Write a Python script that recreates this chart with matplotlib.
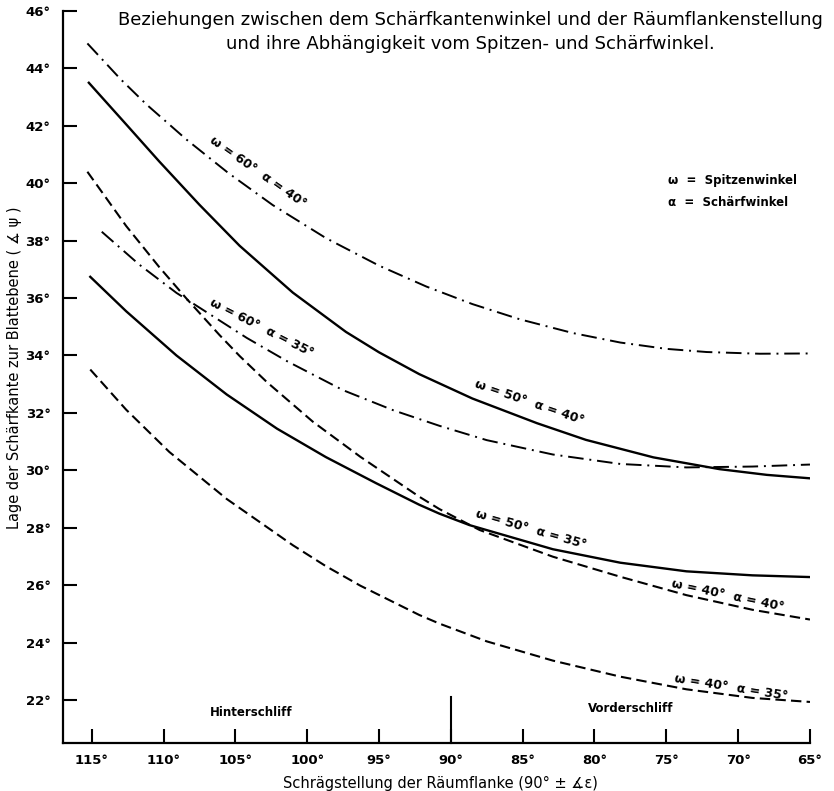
import numpy as np
import matplotlib.pyplot as plt

plt.rcParams['font.family'] = 'DejaVu Sans'

# values (x = Schrägstellung, y = Lage der Schärfkante)
x_w60_a40 = [115.3, 113.0, 111.2, 108.4, 105.5, 102.4, 98.7, 95.0, 91.7, 88.5, 85.2, 81.5, 78.2, 75.0, 72.2, 68.5, 65.0]
y_w60_a40 = [44.87, 43.63, 42.75, 41.52, 40.36, 39.24, 38.09, 37.13, 36.40, 35.79, 35.26, 34.78, 34.45, 34.23, 34.12, 34.06, 34.07]

x_w50_a40 = [115.2, 112.6, 110.3, 107.5, 104.7, 101.0, 97.3, 95.0, 92.2, 88.5, 84.0, 80.6, 75.9, 71.3, 68.0, 65.0]
y_w50_a40 = [43.50, 42.05, 40.76, 39.25, 37.82, 36.19, 34.82, 34.11, 33.35, 32.50, 31.64, 31.06, 30.45, 30.04, 29.84, 29.72]

x_w60_a35 = [114.3, 111.7, 109.1, 104.2, 101.4, 97.5, 94.0, 90.8, 87.5, 82.9, 78.2, 73.6, 69.0, 65.0]
y_w60_a35 = [38.31, 37.17, 36.18, 34.61, 33.80, 32.79, 32.09, 31.55, 31.05, 30.55, 30.22, 30.10, 30.13, 30.20]

x_w40_a40 = [115.3, 112.6, 110.3, 108.4, 106.1, 104.7, 102.8, 99.6, 96.3, 92.2, 90.8, 88.0, 82.9, 78.2, 73.6, 69.0, 65.0]
y_w40_a40 = [40.40, 38.51, 37.08, 35.98, 34.71, 33.98, 33.07, 31.69, 30.47, 29.08, 28.65, 27.92, 26.99, 26.29, 25.65, 25.14, 24.80]

x_w50_a35 = [115.1, 112.6, 109.1, 105.6, 102.1, 98.7, 95.2, 92.2, 90.8, 88.7, 82.9, 78.2, 73.6, 69.0, 65.0]
y_w50_a35 = [36.74, 35.54, 34.00, 32.64, 31.45, 30.46, 29.55, 28.80, 28.49, 28.09, 27.25, 26.78, 26.48, 26.34, 26.28]

x_w40_a35 = [115.1, 112.6, 109.6, 105.6, 101.0, 98.7, 96.3, 92.2, 90.8, 87.5, 82.9, 78.2, 73.6, 69.0, 65.0]
y_w40_a35 = [33.51, 32.11, 30.64, 29.00, 27.39, 26.66, 25.98, 24.96, 24.66, 24.04, 23.37, 22.81, 22.37, 22.07, 21.93]

x_ticks = [115, 110, 105, 100, 95, 90, 85, 80, 75, 70, 65]
y_ticks = [22, 24, 26, 28, 30, 32, 34, 36, 38, 40, 42, 44, 46]

dashdot = (0, (8, 3, 1, 3))
dashed = (0, (5, 2.5))

fig = plt.figure(figsize=(8.34, 7.91), dpi=100)
ax = fig.add_axes([0.0755, 0.0607, 0.8957, 0.9254])

ax.plot(x_w60_a40, y_w60_a40, color='black', lw=1.4, linestyle=dashdot)
ax.plot(x_w50_a40, y_w50_a40, color='black', lw=1.7)
ax.plot(x_w60_a35, y_w60_a35, color='black', lw=1.4, linestyle=dashdot)
ax.plot(x_w40_a40, y_w40_a40, color='black', lw=1.5, linestyle=dashed)
ax.plot(x_w50_a35, y_w50_a35, color='black', lw=1.7)
ax.plot(x_w40_a35, y_w40_a35, color='black', lw=1.5, linestyle=dashed)

ax.set_xlim(117.0, 65)
ax.set_ylim(20.5, 46.0)

ax.set_xticks(x_ticks)
ax.set_xticklabels([f'{v}°' for v in x_ticks])
ax.set_yticks(y_ticks)
ax.set_yticklabels([f'{v}°' for v in y_ticks])
ax.tick_params(axis='both', direction='in', length=10, width=1.5, labelsize=9.5)
ax.tick_params(axis='y', pad=9)
ax.tick_params(axis='x', pad=8)
for lab in ax.get_xticklabels() + ax.get_yticklabels():
    lab.set_fontweight('bold')

for s in ['top', 'right']:
    ax.spines[s].set_visible(False)
for s in ['left', 'bottom']:
    ax.spines[s].set_linewidth(1.6)

# longer tick at 90° separating the two regions
ax.plot([90, 90], [20.5, 22.1], color='black', lw=1.5, clip_on=False)

ax.text(103.9, 21.55, 'Hinterschliff', fontsize=8.5, fontweight='bold', ha='center', va='center')
ax.text(77.5, 21.7, 'Vorderschliff', fontsize=8.5, fontweight='bold', ha='center', va='center')

# curve labels
lab_kw = dict(fontsize=9, fontweight='bold', ha='center', va='center', rotation_mode='anchor')
ax.text(103.4, 40.4, 'ω = 60°  α = 40°', rotation=-35, **lab_kw)
ax.text(103.2, 34.95, 'ω = 60°  α = 35°', rotation=-27, **lab_kw)
ax.text(84.5, 32.35, 'ω = 50°  α = 40°', rotation=-19, **lab_kw)
ax.text(84.4, 27.95, 'ω = 50°  α = 35°', rotation=-16, **lab_kw)
ax.text(70.7, 25.65, 'ω = 40°  α = 40°', rotation=-12, **lab_kw)
ax.text(70.5, 22.45, 'ω = 40°  α = 35°', rotation=-9, **lab_kw)

ax.text(0.81, 0.768, 'ω  =  Spitzenwinkel', transform=ax.transAxes, fontsize=8.5, fontweight='bold', va='center')
ax.text(0.81, 0.739, 'α  =  Schärfwinkel', transform=ax.transAxes, fontsize=8.5, fontweight='bold', va='center')

fig.text(0.5636, 1 - 20 / 791, 'Beziehungen zwischen dem Schärfkantenwinkel und der Räumflankenstellung',
         fontsize=13, ha='center', va='center')
fig.text(0.5636, 1 - 44 / 791, 'und ihre Abhängigkeit vom Spitzen- und Schärfwinkel.',
         fontsize=13, ha='center', va='center')

fig.text(440 / 834, 1 - 783 / 791, 'Schrägstellung der Räumflanke (90° ± ∡ε)',
         fontsize=10.5, ha='center', va='center')
fig.text(15 / 834, 1 - 368 / 791, 'Lage der Schärfkante zur Blattebene ( ∡ ψ )',
         fontsize=10.5, ha='center', va='center', rotation=90)

fig.savefig('out.png', dpi=100)
